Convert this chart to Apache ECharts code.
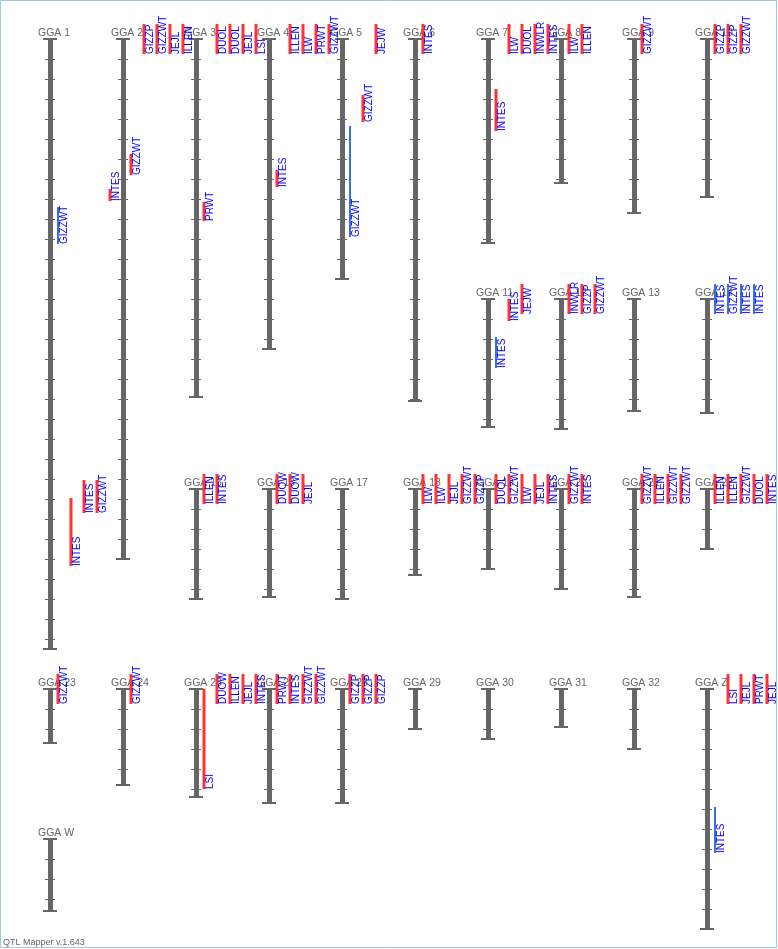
<!DOCTYPE html>
<html>
<head>
<meta charset="utf-8">
<script src="https://cdn.jsdelivr.net/npm/echarts/dist/echarts.min.js"></script>
<style>html,body{margin:0;padding:0;background:#fff}#c{width:778px;height:949px}</style>
</head>
<body>
<div id="c"></div>
<script>
// ---------------- DATA ----------------
const chromosomes = ['GGA 1','GGA 2','GGA 3','GGA 4','GGA 5','GGA 6','GGA 7','GGA 8','GGA 9','GGA 10',
  'GGA 11','GGA 12','GGA 13','GGA 14',
  'GGA 15','GGA 16','GGA 17','GGA 18','GGA 19','GGA 20','GGA 21','GGA 22',
  'GGA 23','GGA 24','GGA 26','GGA 27','GGA 28','GGA 29','GGA 30','GGA 31','GGA 32','GGA Z',
  'GGA W'];
// chromosome lengths (cM)
const chromLengths = [305, 260, 179, 155, 120, 181, 102, 72, 87, 79,
  64, 65, 56, 57,
  55, 54, 55, 43, 40, 50, 54, 30,
  27, 48, 54, 57, 57, 20, 25, 19, 30, 120,
  36];
const tickIntervalCM = 10;

// QTL records (parallel arrays), listed per chromosome in display order
const qtlChrom = [
  'GGA 1','GGA 1','GGA 1','GGA 1','GGA 1',
  'GGA 2','GGA 2','GGA 2','GGA 2','GGA 2',
  'GGA 3','GGA 3','GGA 3','GGA 3','GGA 3',
  'GGA 4','GGA 4','GGA 4','GGA 4','GGA 4',
  'GGA 5','GGA 5','GGA 5',
  'GGA 6',
  'GGA 7','GGA 7','GGA 7','GGA 7','GGA 7',
  'GGA 8','GGA 8',
  'GGA 9',
  'GGA 10','GGA 10','GGA 10',
  'GGA 11','GGA 11','GGA 11',
  'GGA 12','GGA 12','GGA 12',
  'GGA 14','GGA 14','GGA 14','GGA 14',
  'GGA 15','GGA 15',
  'GGA 16','GGA 16','GGA 16',
  'GGA 18','GGA 18','GGA 18','GGA 18','GGA 18',
  'GGA 19','GGA 19','GGA 19','GGA 19','GGA 19',
  'GGA 20','GGA 20',
  'GGA 21','GGA 21','GGA 21','GGA 21',
  'GGA 22','GGA 22','GGA 22','GGA 22','GGA 22',
  'GGA 23',
  'GGA 24',
  'GGA 26','GGA 26','GGA 26','GGA 26','GGA 26',
  'GGA 27','GGA 27','GGA 27','GGA 27',
  'GGA 28','GGA 28','GGA 28',
  'GGA Z','GGA Z','GGA Z','GGA Z','GGA Z'
];
const qtlTrait = [
  'GIZZWT','INTES','INTES','GIZZWT','INTES',
  'GIZZWT','GIZZP','GIZZWT','JEJL','ILLEN',
  'PRWT','DUOL','DUOL','JEJL','LSI',
  'INTES','ILLEN','ILW','PRWT','GIZZWT',
  'GIZZWT','GIZZWT','JEJW',
  'INTES',
  'INTES','ILW','DUOL','INWLR','INTES',
  'ILW','ILLEN',
  'GIZZWT',
  'GIZZP','GIZZP','GIZZWT',
  'INTES','INTES','JEJW',
  'INWLR','GIZZP','GIZZWT',
  'INTES','GIZZWT','INTES','INTES',
  'ILLEN','INTES',
  'DUOW','DUOW','JEJL',
  'ILW','ILW','JEJL','GIZZWT','GIZZP',
  'DUOL','GIZZWT','ILW','JEJL','INTES',
  'GIZZWT','INTES',
  'GIZZWT','ILLEN','GIZZWT','GIZZWT',
  'ILLEN','ILLEN','GIZZWT','DUOL','INTES',
  'GIZZWT',
  'GIZZWT',
  'LSI','DUOW','ILLEN','JEJL','INTES',
  'PRWT','INTES','GIZZWT','GIZZWT',
  'GIZZP','GIZZP','GIZZP',
  'INTES','LSI','JEJL','PRWT','JEJL'
];
const qtlStart = [
  84, 229.5, 220.5, 220.5, 75,
  57.5, -7.5, -7.5, -7.5, -7.5,
  81.5, -7.5, -7.5, -7.5, -7.5,
  65.5, -7.5, -7.5, -7.5, -7.5,
  43.5, 28, -7.5,
  -7.5,
  25, -7.5, -7.5, -7.5, -7.5,
  -7.5, -7.5,
  -7.5,
  -7.5, -7.5, -7.5,
  19, 0, -7.5,
  -7.5, -7.5, -7.5,
  -7.5, -7.5, -7.5, -7.5,
  -7.5, -7.5,
  -7.5, -7.5, -7.5,
  -7.5, -7.5, -7.5, -7.5, -7.5,
  -7.5, -7.5, -7.5, -7.5, -7.5,
  -7.5, -7.5,
  -7.5, -7.5, -7.5, -7.5,
  -7.5, -7.5, -7.5, -7.5, -7.5,
  -7.5,
  -7.5,
  0, -7.5, -7.5, -7.5, -7.5,
  -7.5, -7.5, -7.5, -7.5,
  -7.5, -7.5, -7.5,
  59, -7.5, -7.5, -7.5, -7.5
];
const qtlEnd = [
  102.5, 263.5, 237, 237, 81,
  68, 7.5, 7.5, 7.5, 7.5,
  91, 7.5, 7.5, 7.5, 7.5,
  74, 7.5, 7.5, 7.5, 7.5,
  99, 41.5, 7.5,
  7.5,
  46, 7.5, 7.5, 7.5, 7.5,
  7.5, 7.5,
  7.5,
  7.5, 7.5, 7.5,
  34.5, 11, 7.5,
  7.5, 7.5, 7.5,
  7.5, 7.5, 7.5, 7.5,
  7.5, 7.5,
  7.5, 7.5, 7.5,
  7.5, 7.5, 7.5, 7.5, 7.5,
  7.5, 7.5, 7.5, 7.5, 7.5,
  7.5, 7.5,
  7.5, 7.5, 7.5, 7.5,
  7.5, 7.5, 7.5, 7.5, 7.5,
  7.5,
  7.5,
  50, 7.5, 7.5, 7.5, 7.5,
  7.5, 7.5, 7.5, 7.5,
  7.5, 7.5, 7.5,
  82, 7.5, 7.5, 7.5, 7.5
];
// 'S' = significant (red), 'G' = suggestive (blue)
const qtlType = [
  'G','S','S','S','S',
  'S','S','S','S','S',
  'S','S','S','S','S',
  'S','S','S','S','S',
  'G','S','S',
  'S',
  'S','S','S','S','S',
  'S','S',
  'S',
  'S','S','S',
  'G','S','S',
  'S','S','S',
  'G','G','G','G',
  'S','S',
  'S','S','S',
  'S','S','S','S','S',
  'S','S','S','S','S',
  'S','S',
  'S','S','S','S',
  'S','S','S','S','S',
  'S',
  'S',
  'S','S','S','S','S',
  'S','S','S','S',
  'S','S','S',
  'G','S','S','S','S'
];
const footerText = 'QTL Mapper v.1.643';

// ---------------- LAYOUT & STYLE ----------------
const rowTops = [39, 299, 489, 689, 839];
const slotRow = [0,0,0,0,0,0,0,0,0,0, 1,1,1,1, 2,2,2,2,2,2,2,2, 3,3,3,3,3,3,3,3,3,3, 4];
const slotCol = [0,1,2,3,4,5,6,7,8,9, 6,7,8,9, 2,3,4,5,6,7,8,9, 0,1,2,3,4,5,6,7,8,9, 0];
const colX0 = 50, colStep = 73, pxPerCM = 2;
const laneX0 = 8, laneStep = 13;
const FONT = '"Liberation Sans", Arial, Helvetica, sans-serif';
const typeColor = { S: '#ff3333', G: '#3b6fdc' };
const typeWidth = { S: 3, G: 2 };
const chromColor = '#666666';

const grids = [], xAxes = [], yAxes = [], series = [], titles = [];
chromosomes.forEach((name, i) => {
  const cx = colX0 + colStep * slotCol[i];
  const top = rowTops[slotRow[i]];
  const len = chromLengths[i];
  grids.push({ left: cx - 5, top: top, width: 10, height: len * pxPerCM, containLabel: false, outerBoundsMode: 'none' });
  xAxes.push({ gridIndex: i, type: 'value', min: -1, max: 1, show: false });
  yAxes.push({
    gridIndex: i, type: 'value', inverse: true, min: 0, max: len, interval: tickIntervalCM,
    offset: -5,
    axisLine: { show: true, onZero: false, lineStyle: { color: chromColor, width: 5, cap: 'butt' } },
    axisTick: { show: false }, axisLabel: { show: false },
    splitLine: { show: true, lineStyle: { color: chromColor, width: 1 } }
  });
  titles.push({
    text: name, left: cx - 12, top: top - 11, padding: 0, z: 1,
    textStyle: { fontSize: 10.5, fontWeight: 'normal', color: '#666', fontFamily: FONT }
  });
  // end caps
  series.push({
    type: 'custom', coordinateSystem: 'cartesian2d', xAxisIndex: i, yAxisIndex: i, silent: true, z: 3,
    data: [[0, len]],
    renderItem: (params, api) => {
      const a = api.coord([0, api.value(0)]);
      const b = api.coord([0, api.value(1)]);
      const st = { stroke: chromColor, lineWidth: 2 };
      return { type: 'group', children: [
        { type: 'line', shape: { x1: a[0] - 7, y1: a[1], x2: a[0] + 7, y2: a[1] }, style: st },
        { type: 'line', shape: { x1: b[0] - 7, y1: b[1], x2: b[0] + 7, y2: b[1] }, style: st }
      ]};
    }
  });
  // QTLs
  const idx = [];
  qtlChrom.forEach((c, k) => { if (c === name) idx.push(k); });
  if (idx.length) {
    series.push({
      type: 'custom', coordinateSystem: 'cartesian2d', xAxisIndex: i, yAxisIndex: i, silent: true, z: 5,
      data: idx.map((k, lane) => [lane, qtlStart[k], qtlEnd[k], k]),
      renderItem: (params, api) => {
        const lane = api.value(0), k = api.value(3);
        const p0 = api.coord([0, api.value(1)]);
        const p1 = api.coord([0, api.value(2)]);
        const x = p0[0] + laneX0 + lane * laneStep;
        const t = qtlType[k];
        return { type: 'group', children: [
          { type: 'line', shape: { x1: x, y1: p0[1], x2: x, y2: p1[1] },
            style: { stroke: typeColor[t], lineWidth: typeWidth[t] } },
          { type: 'text', x: x + 1.5, y: p1[1], rotation: Math.PI / 2,
            style: { text: qtlTrait[k], fill: '#0000ff', font: '10px ' + FONT, align: 'left', verticalAlign: 'top' } }
        ]};
      }
    });
  }
});
titles.push({ text: footerText, left: 3, top: 938, padding: 0,
  textStyle: { fontSize: 9, fontWeight: 'normal', color: '#666', fontFamily: FONT } });

const chart = echarts.init(document.getElementById('c'), null, { renderer: 'canvas' });
chart.setOption({
  animation: false,
  backgroundColor: '#ffffff',
  title: titles,
  grid: grids, xAxis: xAxes, yAxis: yAxes,
  series: series,
  graphic: [{ type: 'rect', silent: true, z: 100,
    shape: { x: 0.5, y: 0.5, width: 776, height: 947 },
    style: { fill: 'none', stroke: '#9cc8ea', lineWidth: 1 } }]
});
</script>
</body>
</html>
